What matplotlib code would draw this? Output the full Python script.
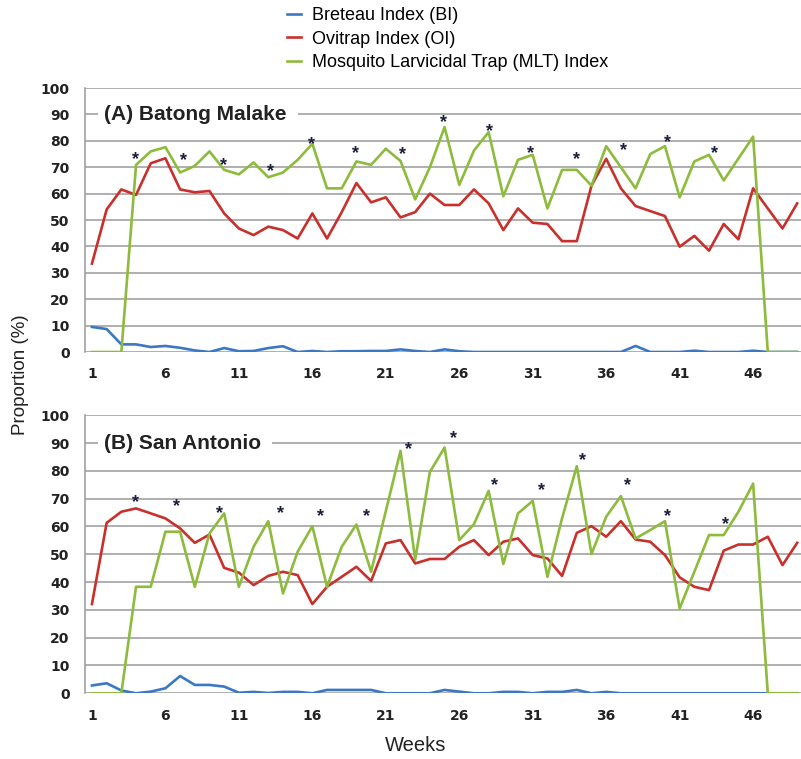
import matplotlib.pyplot as plt
import numpy as np

plt.rcParams["font.family"] = ["Liberation Sans", "DejaVu Sans"]

weeks = np.arange(1, 50)

# (A) Batong Malake
bi_a = [9.5, 8.7, 2.9, 2.9, 1.9, 2.3, 1.6, 0.6, 0, 1.5,
        0.3, 0.4, 1.5, 2.2, 0, 0.4, 0, 0.3, 0.3, 0.4,
        0.4, 1.0, 0.4, 0, 1.0, 0.3, 0, 0, 0, 0,
        0, 0, 0, 0, 0, 0, 0, 2.3, 0, 0,
        0, 0.5, 0, 0, 0, 0.5, 0, 0, 0]
oi_a = [33.5, 54, 61.6, 59.5, 71.5, 73.4, 61.6, 60.5, 61, 52.5,
        46.8, 44.3, 47.5, 46.2, 43, 52.5, 43, 53, 64, 56.7,
        58.6, 51, 53, 60, 55.7, 55.7, 61.6, 56.3, 46.2, 54.4,
        49, 48.5, 42, 42, 63, 73.2, 62, 55.3, 53.4, 51.5,
        39.9, 44, 38.4, 48.5, 42.7, 62, 54.4, 46.8, 56.3]
mlt_a = [0, 0, 0, 70.9, 76, 77.6, 68, 70.5, 76, 69,
         67.3, 71.8, 66.2, 68, 72.8, 78.9, 62, 62, 72.2, 70.9,
         77, 72.4, 57.8, 70, 85.2, 63.3, 76.3, 83.3, 59, 72.8,
         74.7, 54.4, 69, 69, 63, 78, 70, 62, 75, 78,
         58.6, 72.2, 74.7, 65, 73.3, 81.6, 0, 0, 0]
star_a_x = [3.93, 7.21, 9.94, 13.12, 15.96, 18.97, 22.15, 24.91, 28.09, 30.86,
            33.99, 37.17, 40.19, 43.36]
star_a_y = [74.9, 74.6, 72.7, 70.5, 80.7, 77.2, 76.9, 88.9, 85.3, 77.2,
            74.9, 78.4, 81.2, 77.2]

# (B) San Antonio
bi_b = [2.8, 3.6, 1.0, 0, 0.6, 1.8, 6.2, 3.0, 3.0, 2.4,
        0.2, 0.5, 0.1, 0.5, 0.5, 0, 1.2, 1.2, 1.2, 1.2,
        0, 0, 0, 0, 1.2, 0.6, 0, 0, 0.5, 0.5,
        0, 0.5, 0.5, 1.2, 0, 0.5, 0, 0, 0, 0,
        0, 0, 0, 0, 0, 0, 0, 0, 0]
oi_b = [32.1, 61.3, 65.3, 66.5, 64.7, 62.9, 59.3, 54.1, 57.1, 45.1,
        43.4, 38.9, 42.2, 43.7, 42.5, 32.1, 38.3, 41.9, 45.5, 40.4,
        53.9, 55.1, 46.7, 48.3, 48.3, 52.7, 55.1, 49.7, 54.5, 55.7,
        49.7, 48.5, 42.2, 57.7, 60.1, 56.3, 61.9, 55.3, 54.5, 49.7,
        41.7, 38.3, 37.1, 51.3, 53.5, 53.5, 56.3, 46.1, 54.1]
mlt_b = [0, 0, 0, 38.3, 38.3, 58.1, 58.1, 38.3, 57.5, 64.7,
         38.3, 52.7, 61.9, 35.9, 50.9, 60.1, 38.3, 52.7, 60.7, 43.7,
         65.5, 87.2, 48.1, 79.6, 88.4, 55.1, 60.8, 72.8, 46.5, 64.7,
         69.2, 41.9, 63, 81.7, 50.1, 63.5, 70.9, 55.7, 58.7, 61.9,
         30.5, 43.7, 56.9, 56.9, 65.3, 75.4, 0, 0, 0]
star_b_x = [3.93, 6.77, 9.67, 13.8, 16.57, 19.7, 22.53, 25.6, 28.43, 31.6,
            34.4, 37.47, 40.19, 44.1]
star_b_y = [70.5, 68.9, 66.5, 66.5, 65.6, 65.6, 89.7, 93.5, 76.7, 74.6,
            85.7, 76.7, 65.6, 62.7]

labels = ["Breteau Index (BI)", "Ovitrap Index (OI)",
          "Mosquito Larvicidal Trap (MLT) Index"]
colors = ["#3a78c6", "#c9302c", "#8dbb3c"]

fig = plt.figure(figsize=(8.01, 7.59), dpi=100)
ax_a = fig.add_axes([0.106, 0.5362, 0.894, 0.3478])
ax_b = fig.add_axes([0.106, 0.0866, 0.894, 0.3663])

panels = [
    (ax_a, bi_a, oi_a, mlt_a, star_a_x, star_a_y, "(A) Batong Malake"),
    (ax_b, bi_b, oi_b, mlt_b, star_b_x, star_b_y, "(B) San Antonio"),
]

for ax, bi, oi, mlt, sx, sy, title in panels:
    for vals, c, lab in zip([bi, oi, mlt], colors, labels):
        ax.plot(weeks, vals, color=c, lw=1.9, label=lab, zorder=3)
    for x, y in zip(sx, sy):
        ax.annotate("*", (x, y), xytext=(0, -7), textcoords="offset points",
                    ha="center", va="baseline", fontsize=13, fontweight="bold",
                    color="#1c1f3a", zorder=4)
    ax.text(1.8, 90, title + " ", fontsize=15, fontweight="bold",
            color="#222222", va="center", ha="left", zorder=5,
            bbox=dict(facecolor="white", edgecolor="none", pad=4))
    ax.set_xlim(0.52, 49.26)
    ax.set_ylim(0, 100)
    ax.set_yticks(np.arange(0, 101, 10))
    ax.set_xticks(np.arange(1, 50, 5))
    ax.grid(axis="y", color="#9a9a9a", lw=1.1)
    ax.set_axisbelow(True)
    for s in ["top", "right", "bottom"]:
        ax.spines[s].set_visible(False)
    ax.spines["left"].set_color("#9a9a9a")
    ax.spines["left"].set_linewidth(1.1)
    ax.tick_params(length=0, labelsize=10, colors="#222222")
    ax.tick_params(axis="x", pad=11)
    ax.tick_params(axis="y", pad=11)
    for t in ax.get_xticklabels() + ax.get_yticklabels():
        t.set_fontweight("bold")
        t.set_family("DejaVu Sans")

handles, labs = ax_a.get_legend_handles_labels()
fig.legend(handles, labs, loc="upper left", bbox_to_anchor=(0.338, 1.012),
           frameon=False, fontsize=13, handlelength=0.8, handletextpad=0.6,
           labelspacing=0.36)

fig.text(0.025, 0.506, "Proportion (%)", rotation=90, fontsize=13.5,
         ha="center", va="center", color="#222222")
fig.text(0.519, 0.018, "Weeks", fontsize=14.5, ha="center", va="center",
         color="#222222")

plt.savefig("out.png", dpi=100)
